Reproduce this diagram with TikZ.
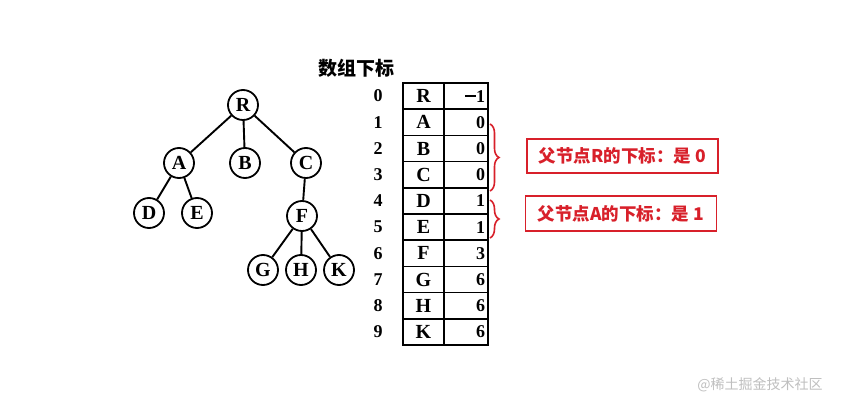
\documentclass[tikz,border=0pt]{standalone}
\usepackage{fontspec}
\setmainfont{Liberation Serif}
\newfontfamily\cjk{Noto Sans CJK SC}
\usetikzlibrary{decorations.pathreplacing}
\definecolor{rd}{HTML}{D8202A}
\tikzset{
 tn/.style={circle,draw,line width=1.8pt,minimum size=30pt,inner sep=0pt,font=\bfseries\fontsize{20}{20}\selectfont},
 edge/.style={line width=1.9pt},
 cell/.style={draw,line width=1.6pt,minimum width=41pt,minimum height=26.2pt,inner sep=0pt,font=\bfseries\fontsize{20}{20}\selectfont},
 vcell/.style={draw,line width=1.6pt,minimum width=44pt,minimum height=26.2pt,inner sep=0pt,font=\bfseries\fontsize{18}{18}\selectfont},
 idx/.style={font=\bfseries\fontsize{18}{18}\selectfont},
 note/.style={draw=rd,line width=1.8pt,text=rd,font=\cjk\bfseries\fontsize{17.5}{17.5}\selectfont,inner sep=0pt},
 brc/.style={draw=rd,line width=1.6pt,decorate,decoration={brace,amplitude=9pt}}
}
\begin{document}
\begin{tikzpicture}[x=1pt,y=-1pt]
\useasboundingbox[fill=white] (0,0) rectangle (854,411);
\node[tn] (R) at (243,105) {R};
\node[tn] (A) at (179,163) {A};
\node[tn] (B) at (245,163) {B};
\node[tn] (C) at (306,163) {C};
\node[tn] (D) at (149,213) {D};
\node[tn] (E) at (197,213) {E};
\node[tn] (F) at (302,216) {F};
\node[tn] (G) at (263,270) {G};
\node[tn] (H) at (301,270) {H};
\node[tn] (K) at (339,270) {K};
\foreach \a/\b in {R/A,R/B,R/C,A/D,A/E,C/F,F/G,F/H,F/K} \draw[edge] (\a)--(\b);
\node[font=\cjk\bfseries\fontsize{19}{19}\selectfont] (title) at (356,68) {数组下标};
\foreach \n/\v [count=\i from 0] in {R/{\rule[0.3em]{0.6em}{1.6pt}1},A/0,B/0,C/0,D/1,E/1,F/3,G/6,H/6,K/6}{
  \node[cell] (n\i) at (423.5,96.1+26.2*\i) {\n};
  \node[vcell,text width=38pt,align=right] (v\i) at (466,96.1+26.2*\i) {\v};
  \node[idx] (i\i) at (378,96.1+26.2*\i) {\i};
}
\coordinate (b1t) at (490,124); \coordinate (b1b) at (490,191);
\coordinate (b2t) at (490,200); \coordinate (b2b) at (490,238);
\draw[brc] (b1t)--(b1b);
\draw[brc] (b2t)--(b2b);
\node[note,minimum width=191pt,minimum height=34pt] (n1) at (622.5,156) {父节点R的下标：是 0};
\node[note,minimum width=191pt,minimum height=35pt] (n2) at (621,213.5) {父节点A的下标：是 1};
\node[text=gray!50,font=\cjk\fontsize{14}{14}\selectfont] (wm) at (760,385) {@稀土掘金技术社区};
\end{tikzpicture}
\end{document}
